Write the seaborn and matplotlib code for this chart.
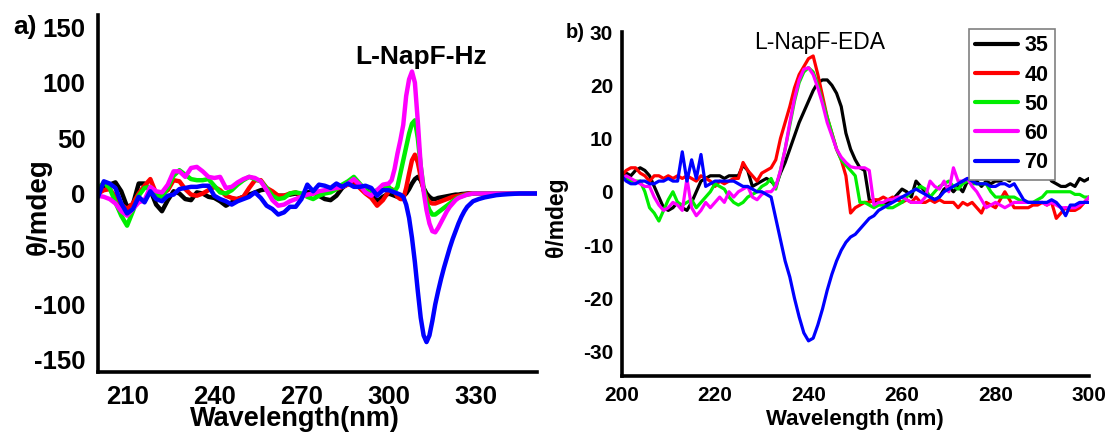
import numpy as np
import pandas as pd
import matplotlib
matplotlib.use("Agg")
import matplotlib.pyplot as plt
import seaborn as sns
from matplotlib.lines import Line2D

sns.set_style("white")
plt.rcParams["font.family"] = ["Liberation Sans", "DejaVu Sans"]
plt.rcParams["axes.unicode_minus"] = False
plt.rcParams["text.color"] = "black"
plt.rcParams["axes.labelcolor"] = "black"
plt.rcParams["xtick.color"] = "black"
plt.rcParams["ytick.color"] = "black"

temps = ["35", "40", "50", "60", "70"]
colors = ["#000000", "#ff0000", "#00ee00", "#ff00ff", "#0000ff"]

# ---------------- L-NapF-Hz (panel a) ----------------
wl_hz = np.concatenate([np.arange(200, 300, 2), np.arange(300, 330, 1), np.arange(331, 352, 2)])

hz_35 = [2, 7, 8, 10, 2, -12, -10, 9, 9, 3,
         -10, -16, -6, 2, 0, -5, -6, 1, 0, -3,
         -4, -7, -11, -8, -5, -3, -1, 1, 3, 4,
         0, -2, -2, -1, 0, -2, 1, 2, -2, -5,
         -6, -2, 5, 9, 10, 8, 4, 0, -7, -3,
         0, -1, -2, -3, -3, -2, 0, 4, 9, 13, 15, 12, 5, 0, -3,
         -5, -5, -4, -3.5, -3, -2.5, -2, -1.5, -1, -1, -0.5, -0.3, 0, 0, 0,
         0, 0, 0, 0, 0, 0, 0, 0, 0, 0, 0]
hz_40 = [0, 3, 4, -3, -10, -14, -9, 0, 7, 13,
         0, 0, 3, 12, 11, 4, -1, -2, 0, 3,
         6, 3, -2, -4, -5, -3, 5, 12, 12, 5,
         2, -2, -2, 0, 1, -2, -2, 0, 1, 1,
         2, 4, 6, 8, 12, 5, 0, -4, -11, -6,
         2, 4, 2, -3, -5, -5, 5, 18, 30, 35, 28, 15, 3, -4, -8,
         -9, -9, -8, -7, -6, -5, -4, -3, -2.5, -2, -1.5, -1, -0.5, 0, 0,
         0, 0, 0, 0, 0, 0, 0, 0, 0, 0, 0]
hz_50 = [4, 10, 5, -8, -20, -29, -16, -2, 5, 6,
         -2, -3, 5, 16, 21, 17, 13, 12, 12, 13,
         7, 1, 0, 3, 8, 12, 15, 13, 11, 5,
         -2, -5, -4, 0, 1, 0, -3, -5, -2, 0,
         1, 4, 8, 11, 15, 9, 3, 0, 3, 6,
         6, 3, 2, 6, 18, 30, 42, 54, 63, 66, 50, 25, 5, -8, -15,
         -19, -19, -17, -15, -13, -11, -9, -7, -5, -3.5, -2.5, -1.5, -1, -0.5, 0,
         0, 0, 0, 0, 0, 0, 0, 0, 0, 0, 0]
hz_60 = [-2, -3, -5, -9, -16, -20, -14, -8, -6, 6,
         2, 1, 8, 20, 20, 15, 23, 24, 20, 15,
         14, 15, 5, 6, 10, 13, 15, 14, 11, 3,
         -6, -11, -10, -7, -5, -3, -1, 0, 2, 3,
         4, 5, 6, 9, 13, 8, 1, -2, 3, 8,
         9, 12, 22, 36, 48, 62, 88, 103, 110, 100, 65, 25, 2, -15, -27,
         -34, -35, -31, -26, -21, -16, -12, -9, -6, -4, -3, -2, -1, -0.5, 0,
         0, 0, 0, 0, 0, 0, 0, 0, 0, 0, 0]
hz_70 = [-3, 11, 9, 5, -9, -18, -14, -3, -8, 2,
         -5, -7, -2, -1, 4, 5, 6, 6, 7, 7,
         -2, -5, -7, -10, -7, -5, -3, 1, -4, -11,
         -14, -19, -17, -12, -12, -5, 8, 2, 8, 7,
         5, 9, 6, 9, 6, 6, 7, 5, -2, 3,
         3, 2, 1, 0, -1, -3, -10, -22, -40, -62, -88, -112, -128, -134, -128,
         -115, -100, -88, -77, -67, -58, -49, -41, -34, -27, -21, -16, -12, -9.5, -7,
         -5, -3.5, -2.5, -1.5, -1, -0.6, -0.3, 0, 0, 0, 0]

# ---------------- L-NapF-EDA (panel b) ----------------
wl_eda = np.arange(200, 301, 1)

eda_35 = [3, 3.5, 3, 4, 4.5, 4, 3, 1, -1, -3,
          -3.5, -3, -2, -3, -3.5, -2, 0, 2, 2.5, 3,
          3, 3, 2.5, 3, 3, 3, 5, 4, 1, 1.5,
          2, 2.5, 2, 1, 3.5, 5.5, 8, 10.5, 13, 15,
          17, 19, 20.5, 21, 21, 20, 18.5, 16, 11, 8,
          6, 4.5, 4, -1.5, -2, -2, -2.5, -2, -1.5, -0.5,
          0.5, 0, -1, 2, 1, 0, -1, -1.5, -1, 0.5,
          1, 0, 1, 0, 2, 1.5, 2, 1, 2, 1.5,
          2, 2, 2.5, 2, 3.5, 3, 2.5, 3, 2.5, 3,
          2.5, 3.5, 2, 1.5, 1, 1, 1.5, 1, 2.5, 2,
          2.5]
eda_40 = [3, 4, 4.5, 4.5, 3.5, 3, 2, 3, 3, 2.5,
          3, 2.5, 3, 2.5, 3, 2.5, 2, 3, 2.5, 2,
          1, 2, 1.5, 2, 2.5, 2.5, 5.5, 4, 3, 2,
          3.5, 4, 4.5, 6, 10, 13, 16, 19.5, 22, 23.5,
          25, 25.5, 22, 18, 14, 11, 8, 6, 3, -4,
          -3, -2.5, -2, -2, -1.5, -1.5, -1, -1.5, -1, -1.5,
          -2, -1.5, -2, -1, -2, -2, -1.5, -2, -1.5, -2,
          -2, -2, -3, -2, -2.5, -2, -3, -4, -2, -2.5,
          -3, -1.5, 0, -1.5, -3, -3, -3, -3, -2.5, -2.5,
          -2, -2.5, -2, -5, -4, -3, -3.5, -3.5, -3, -2,
          -1]
eda_50 = [3, 2.5, 2, 2, 2, 0, -3, -4, -5.5, -3.5,
          -1.5, 0, -2, -2.5, -2, -1.5, -3, -2, -1, 0,
          1.5, 1, 0.5, -1, -2, -2.5, -2, -1, -0.5, 0,
          1, 1.5, 2.5, 0.5, 4, 8, 12.5, 17, 20.5, 22.5,
          23.3, 22.5, 20, 17, 14, 11, 8, 6, 5, 4,
          3, -2, -2, -2.5, -3, -2.5, -2.5, -3, -3, -2.5,
          -2, -1, 0, 0.5, 1, 0.5, -1, 0, 1, 1.5,
          2, 1, 0.5, 1.5, 2, 1.5, 1.5, 1.5, 1.5, 0,
          -1, -1, -1, -1, -1, -1.5, -2, -2, -2, -1.5,
          -1, 0, 0, 0, 0, 0, 0, -0.5, -0.5, -1,
          -1]
eda_60 = [2, 3, 2.5, 2, 1.5, 1, 1, -1, -2.5, -3.5,
          -3, -2, -2.5, -3.5, 2.5, -3, -4.5, -3.5, -2, -3,
          -2, -1, -2, 0, -1, 0, 0.5, 1, -1, -1.5,
          -0.5, 0, 0, 1, 4, 8, 13, 17.5, 21, 23,
          23.3, 22, 19.5, 16.5, 13, 10.5, 8, 6.5, 5.5, 4.7,
          4.5, 4.5, 4.5, 4, -2.5, -2, -2, -1.5, -1.5, -1,
          -1, -1.5, -2, -2, -2, -1, 2, 1, 0.5, 2,
          0, 4.5, 2, 2, 2.5, 1, 0, -1.5, -3, -2.5,
          -2, -2.5, -3, -2.5, -2, -2, -2, -2, -2, -2,
          -2, -2.5, -2, -2.5, -3, -3, -3, -3, -2.5, -2,
          -1]
eda_70 = [3, 2, 1.5, 1.5, 2, 2, 1.5, 1.5, 2, 2,
          2.5, 2, 2, 7.5, 2, 6, 2.5, 7, 1, 1.5,
          2, 2, 2, 2, 2, 1.5, 1, 1, 0.5, 0,
          0, -0.5, -1, -5, -9, -13, -16, -20, -23.5, -26.5,
          -28, -27.5, -25, -22, -18.5, -15.5, -13, -11, -9.5, -8.5,
          -8, -7, -6, -5, -4.5, -3.5, -3, -2.5, -2, -1.5,
          -1, -0.5, 0, 0.5, 0, -0.5, -1, -1.5, -1, 0,
          0.5, 1, 1.5, 2, 2.5, 2, 1.5, 1.5, 1.5, 1,
          1, 1.5, 1.5, 1, 1.5, 0, -1.5, -2, -2, -2,
          -2, -2, -1.5, -2, -3, -4.5, -2.5, -2.5, -2, -2,
          -2]


def long_form(wl, series):
    frames = []
    for t, vals in zip(temps, series):
        frames.append(pd.DataFrame({"wavelength": wl, "theta": vals, "temp": t}))
    return pd.concat(frames, ignore_index=True)


df_hz = long_form(wl_hz, [hz_35, hz_40, hz_50, hz_60, hz_70])
df_eda = long_form(wl_eda, [eda_35, eda_40, eda_50, eda_60, eda_70])
palette = dict(zip(temps, colors))

W, H = 1109, 434
fig = plt.figure(figsize=(W / 100, H / 100), dpi=100)

# axes rectangles in pixel units -> figure fractions
def rect(x0, y0, x1, y1):
    return [x0 / W, 1 - y1 / H, (x1 - x0) / W, (y1 - y0) / H]

ax1 = fig.add_axes(rect(98, 15, 537, 372))
ax2 = fig.add_axes(rect(621.5, 32, 1089, 376))

sns.lineplot(data=df_hz, x="wavelength", y="theta", hue="temp", hue_order=temps,
             palette=palette, estimator=None, sort=False, linewidth=3.2,
             legend=False, ax=ax1)
sns.lineplot(data=df_eda, x="wavelength", y="theta", hue="temp", hue_order=temps,
             palette=palette, estimator=None, sort=False, linewidth=2.3,
             legend=False, ax=ax2)

for ax in (ax1, ax2):
    for side in ("top", "right"):
        ax.spines[side].set_visible(False)
    for side in ("left", "bottom"):
        ax.spines[side].set_linewidth(2.6)
        ax.spines[side].set_color("black")
    ax.grid(False)
    ax.set_xlabel("")
    ax.set_ylabel("")

# panel a axes
ax1.set_xlim(200, 351)
ax1.set_ylim(-161, 161)
ax1.set_xticks([210, 240, 270, 300, 330])
ax1.set_yticks([-150, -100, -50, 0, 50, 100, 150])
ax1.tick_params(axis="both", length=0, labelsize=18.5)
ax1.tick_params(axis="y", pad=9)
ax1.tick_params(axis="x", pad=9)
for lab in ax1.get_xticklabels() + ax1.get_yticklabels():
    lab.set_fontweight("bold")
ax1.set_xlabel("Wavelength(nm)", fontsize=19.5, fontweight="bold")
ax1.xaxis.set_label_coords(0.449, -0.132)
ax1.xaxis.label.set_va("center")
ax1.set_ylabel("θ/mdeg", fontsize=20, fontweight="bold")
ax1.yaxis.set_label_coords(-0.134, 0.462)
ax1.yaxis.label.set_va("center")

# panel b axes
ax2.set_xlim(200, 300)
ax2.set_ylim(-34.6, 30)
ax2.set_xticks([200, 220, 240, 260, 280, 300])
ax2.set_yticks([-30, -20, -10, 0, 10, 20, 30])
ax2.tick_params(axis="both", length=0, labelsize=15)
ax2.tick_params(axis="y", pad=6)
ax2.tick_params(axis="x", pad=7)
for lab in ax2.get_xticklabels() + ax2.get_yticklabels():
    lab.set_fontweight("bold")
ax2.set_xlabel("Wavelength (nm)", fontsize=16, fontweight="bold")
ax2.xaxis.set_label_coords(0.499, -0.125)
ax2.xaxis.label.set_va("center")
ax2.set_ylabel("θ/mdeg", fontsize=16.5, fontweight="bold")
ax2.yaxis.set_label_coords(-0.138, 0.462)
ax2.yaxis.label.set_va("center")

# panel letters and sample titles
fig.text(25 / W, 1 - 27 / H, "a)", fontsize=19, fontweight="bold", ha="center", va="center")
fig.text(575 / W, 1 - 33 / H, "b)", fontsize=14.5, fontweight="bold", ha="center", va="center")
fig.text(421 / W, 1 - 57 / H, "L-NapF-Hz", fontsize=19, fontweight="bold", ha="center", va="center")
fig.text(820 / W, 1 - 42 / H, "L-NapF-EDA", fontsize=16.5, ha="center", va="center")

handles = [Line2D([0], [0], color=c, lw=3) for c in colors]
leg = ax2.legend(handles, temps, loc="upper left",
                 bbox_to_anchor=(968.5 / W, 1 - 29 / H), bbox_transform=fig.transFigure,
                 borderaxespad=0, frameon=True, fancybox=False, framealpha=1,
                 edgecolor="#808080", handlelength=2.0,
                 handletextpad=0.3, labelspacing=0.38, borderpad=0.3,
                 prop={"weight": "bold", "size": 15.5})
leg.get_frame().set_linewidth(1.2)

fig.savefig("out.png", dpi=100)
